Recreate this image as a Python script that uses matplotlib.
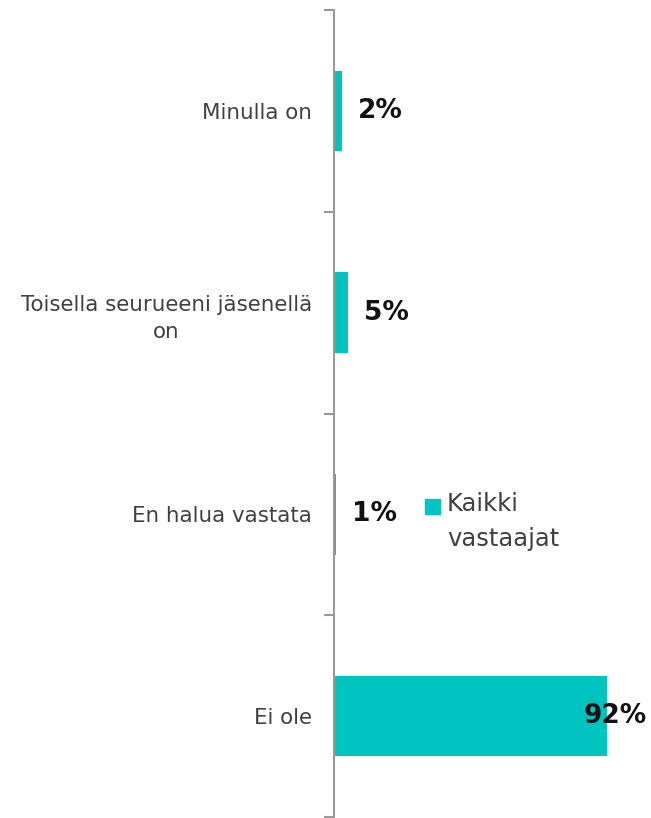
import matplotlib
matplotlib.use("Agg")
import matplotlib.pyplot as plt
from matplotlib.patches import Rectangle

categories = ["Minulla on", "Toisella seurueeni jäsenellä\non", "En halua vastata", "Ei ole"]
values = [2.6, 4.7, 0.8, 92.0]
value_labels = ["2%", "5%", "1%", "92%"]
series_name = "Kaikki\nvastaajat"

BAR = "#00C4C0"
W, H = 651, 818
fig = plt.figure(figsize=(W / 100, H / 100), dpi=100)
ax = fig.add_axes([334 / W, 1 / H, 297 / W, 807 / H])

ypos = list(range(len(categories)))
ax.barh(ypos, values, height=0.4, color=BAR)
ax.set_xlim(0, 100)
ax.set_ylim(len(categories) - 0.5, -0.5)

for y, v, lab in zip(ypos, values, value_labels):
    ax.text(min(v + 5.3, 84.0), y, lab, ha="left", va="center",
            fontsize=19, fontweight="bold", family="DejaVu Sans", color="#111111")

for s in ["top", "right", "bottom"]:
    ax.spines[s].set_visible(False)
ax.spines["left"].set_color("#9a9a9a")
ax.spines["left"].set_linewidth(1.5)
ax.spines["left"].set_zorder(4)
ax.set_xticks([])
ax.set_yticks(ypos)
ax.set_yticklabels(categories, family="DejaVu Sans", fontsize=15.4, color="#404040",
                   multialignment="center", linespacing=1.45)
ax.tick_params(axis="y", which="major", length=0, pad=16)
ax.set_yticks([i - 0.5 for i in range(len(categories) + 1)], minor=True)
ax.tick_params(axis="y", which="minor", length=7, width=1.5, color="#9a9a9a")

# legend
fig.patches.append(Rectangle((425 / W, 1 - 514 / H), 15 / W, 15 / H,
                             transform=fig.transFigure, color=BAR))
fig.text(447 / W, 1 - 492 / H, series_name, ha="left", va="top",
         fontsize=17.5, family="DejaVu Sans", color="#404040", linespacing=1.6)

fig.savefig("out.png", dpi=100)
